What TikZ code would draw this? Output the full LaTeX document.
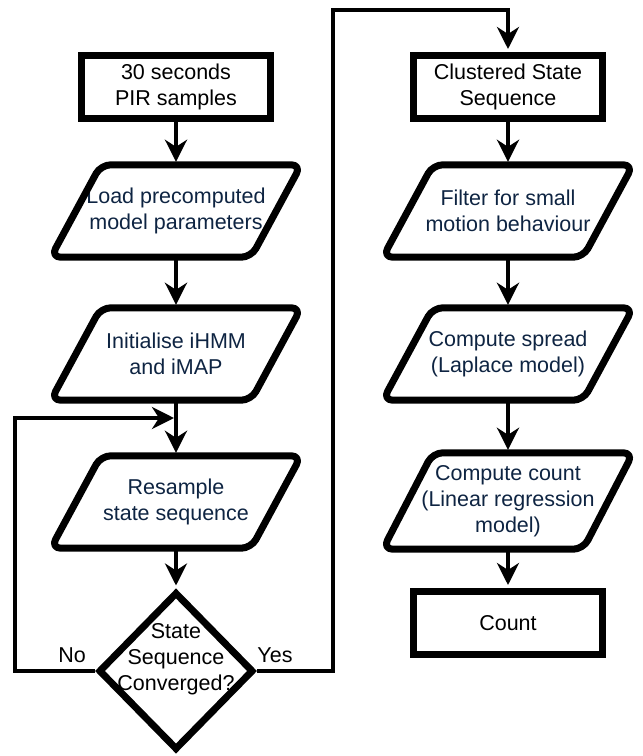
\documentclass[tikz,border=0pt]{standalone}
\usepackage{fontspec}
\setmainfont{Liberation Sans}
\usetikzlibrary{arrows.meta,shapes.geometric}
\definecolor{navy}{RGB}{14,36,66}
\begin{document}
\begin{tikzpicture}[x=1pt,y=-1pt,
  font=\fontsize{21.5}{26}\selectfont,
  boxnode/.style={draw, line width=7pt, minimum width=189pt, minimum height=63pt, align=center, inner sep=0pt},
  paranode/.style={minimum width=200pt, minimum height=92pt, align=center, inner sep=0pt, text=navy},
  parashape/.style={draw, line width=7pt, rounded corners=10pt, line join=round},
  flow/.style={line width=4pt, shorten >=3pt, -{Stealth[length=22pt,width=22pt,inset=7pt]}},
  loopline/.style={line width=4pt, -{Stealth[length=22pt,width=22pt,inset=7pt]}}
]
\useasboundingbox (0,0) rectangle (643,756);

% left column
\node[boxnode] (b1) at (176,87) {30 seconds\\PIR samples};
\node[paranode] (p1) at (176,211) {Load precomputed\\model parameters};
\node[paranode] (p2) at (176,354) {Initialise iHMM\\and iMAP};
\node[paranode] (p3) at (176,502) {Resample\\state sequence};
\node[diamond, draw, line width=7pt, minimum width=155pt, minimum height=158pt, inner sep=0pt] (d) at (176,671) {};
\node[align=center] (dt) at (176,659) {State\\Sequence\\Converged?};
\node (no) at (72,655) {No};
\node (yes) at (275,655) {Yes};

% right column
\node[boxnode] (b2) at (508,87) {Clustered State\\Sequence};
\node[paranode] (q1) at (508,211) {Filter for small\\motion behaviour};
\node[paranode] (q2) at (508,354) {Compute spread\\(Laplace model)};
\node[paranode, minimum height=96pt] (q3) at (508,501) {Compute count\\(Linear regression\\model)};
\node[boxnode] (c) at (508,623) {Count};

% parallelogram outlines
\foreach \n in {p1,p2,p3,q1,q2,q3}{
  \draw[parashape] ([xshift=-25pt]\n.south west) -- ([xshift=-25pt]\n.south east) -- ([xshift=25pt]\n.north east) -- ([xshift=25pt]\n.north west) -- cycle;
}

% connectors
\draw[flow] (b1) -- (p1);
\draw[flow] (p1) -- (p2);
\draw[flow] (p2) -- (p3);
\draw[flow] (p3) -- (d.north);
\coordinate (lj) at (174,418);
\coordinate (ll) at (15,418);
\draw[loopline] (d.west) -- (d.west -| ll) -- (ll) -- (lj);
\coordinate (yt) at (333,10);
\draw[flow] (d.east) -- (d.east -| yt) -- (yt) -- (b2.north |- yt) -- (b2.north);
\draw[flow] (b2) -- (q1);
\draw[flow] (q1) -- (q2);
\draw[flow] (q2) -- (q3);
\draw[flow] (q3) -- (c);
\end{tikzpicture}
\end{document}
